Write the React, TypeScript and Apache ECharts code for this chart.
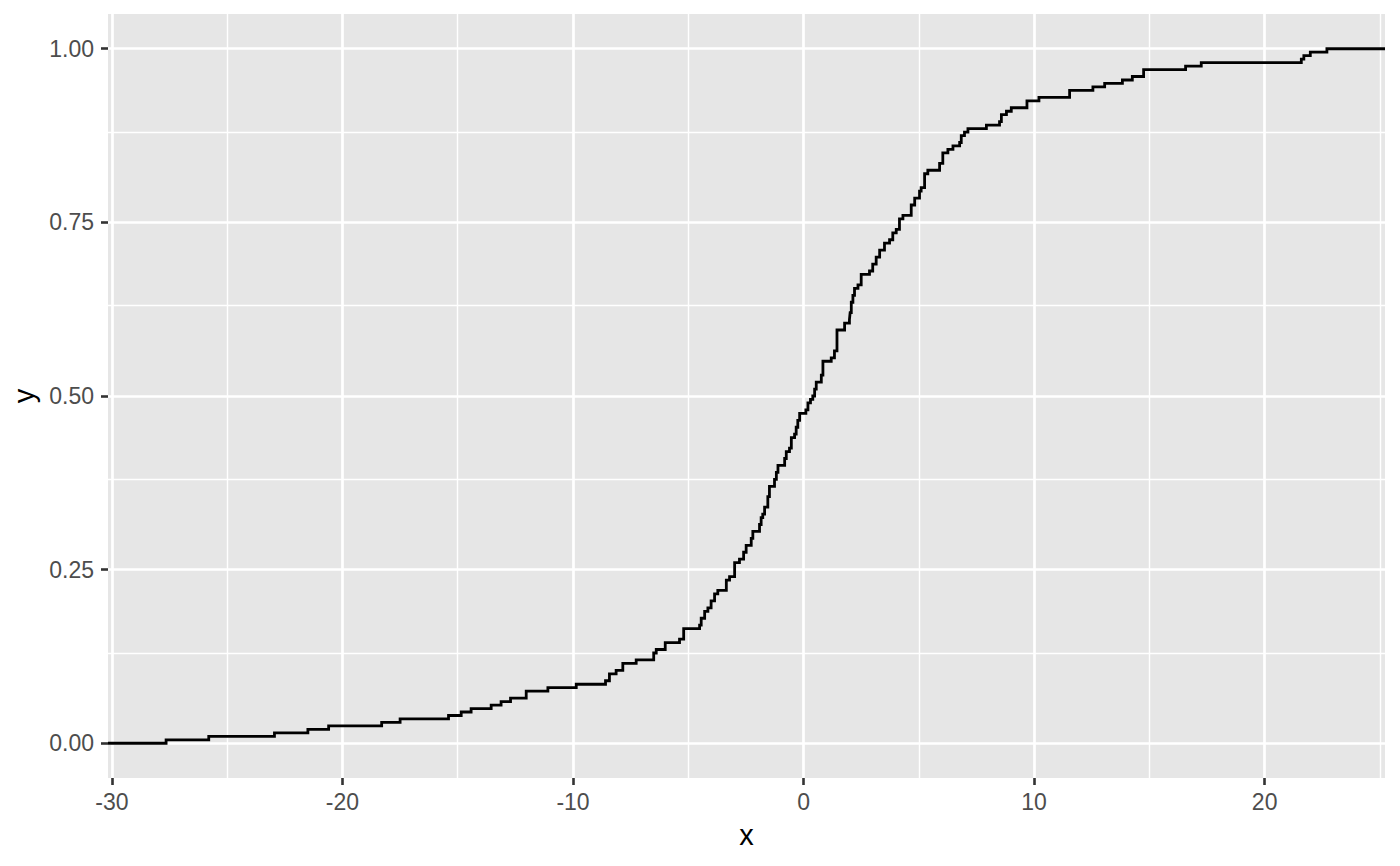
import React, { useEffect, useRef } from "react";
import * as echarts from "echarts";

// ECDF step positions (x where the step occurs, y = cumulative proportion after the step)
const stepX = [
  -27.65, -25.8, -22.95, -21.5, -20.6, -18.3, -17.5, -15.4, -14.85, -14.42,
  -13.55, -13.12, -12.71, -12.03, -11.09, -9.86, -8.59, -8.42, -8.13, -7.84,
  -7.26, -6.5, -6.39, -6.0, -5.38, -5.2, -4.51, -4.44, -4.29, -4.15,
  -4.01, -3.86, -3.72, -3.35, -3.21, -2.99, -2.78, -2.6, -2.49, -2.27,
  -2.2, -1.91, -1.84, -1.77, -1.69, -1.55, -1.48, -1.26, -1.18, -1.11,
  -0.82, -0.75, -0.61, -0.53, -0.39, -0.32, -0.25, -0.17, 0.1, 0.19,
  0.3, 0.4, 0.48, 0.55, 0.77, 0.84, 1.2, 1.34, 1.45, 1.78,
  1.99, 2.02, 2.07, 2.14, 2.21, 2.36, 2.5, 2.86, 3.0, 3.15,
  3.3, 3.51, 3.73, 3.87, 4.02, 4.16, 4.31, 4.67, 4.82, 5.03,
  5.1, 5.25, 5.39, 5.9, 6.04, 6.26, 6.48, 6.77, 6.84, 6.98,
  7.13, 7.93, 8.5, 8.58, 8.8, 9.01, 9.69, 10.21, 11.54, 12.55,
  13.06, 13.83, 14.26, 14.75, 16.57, 17.25, 21.59, 21.7, 21.98, 22.7,
];
const stepY = [
  0.005, 0.01, 0.015, 0.02, 0.025, 0.03, 0.035, 0.04, 0.045, 0.05,
  0.055, 0.06, 0.065, 0.075, 0.08, 0.085, 0.09, 0.1, 0.105, 0.115,
  0.12, 0.13, 0.135, 0.145, 0.15, 0.165, 0.17, 0.18, 0.19, 0.195,
  0.205, 0.215, 0.22, 0.235, 0.24, 0.26, 0.265, 0.275, 0.285, 0.295,
  0.305, 0.315, 0.325, 0.33, 0.34, 0.355, 0.37, 0.38, 0.39, 0.4,
  0.41, 0.42, 0.425, 0.44, 0.445, 0.455, 0.465, 0.475, 0.48, 0.49,
  0.495, 0.5, 0.51, 0.52, 0.53, 0.55, 0.555, 0.565, 0.595, 0.605,
  0.61, 0.62, 0.635, 0.645, 0.655, 0.66, 0.675, 0.68, 0.69, 0.7,
  0.71, 0.72, 0.725, 0.735, 0.74, 0.755, 0.76, 0.775, 0.785, 0.795,
  0.8, 0.82, 0.825, 0.835, 0.85, 0.855, 0.86, 0.865, 0.875, 0.88,
  0.885, 0.89, 0.895, 0.905, 0.91, 0.915, 0.925, 0.93, 0.94, 0.945,
  0.95, 0.955, 0.96, 0.97, 0.975, 0.98, 0.985, 0.99, 0.995, 1.0,
];

const xTicks = [-30, -20, -10, 0, 10, 20];
const xMinorTicks = [-25, -15, -5, 5, 15, 25];
const yTicks = [0, 0.25, 0.5, 0.75, 1];
const yMinorTicks = [0.125, 0.375, 0.625, 0.875];
const xLimits = [-30.17, 25.22];
const yLimits = [-0.05, 1.05];

export default function App() {
  const ref = useRef<HTMLDivElement>(null);

  useEffect(() => {
    if (!ref.current) return;
    const chart = echarts.init(ref.current, null, { renderer: "svg" });
    const font = "'Liberation Sans', Arial, Helvetica, sans-serif";

    const data: number[][] = [[xLimits[0], 0]];
    stepX.forEach((x, i) => data.push([x, stepY[i]]));
    data.push([xLimits[1], 1]);

    const major = { color: "#ffffff", width: 2.7, type: "solid" };
    const minor = { color: "#ffffff", width: 1.4, type: "solid" };
    const gridData: any[] = [
      ...xMinorTicks.map((v) => ({ xAxis: v, lineStyle: minor })),
      ...yMinorTicks.map((v) => ({ yAxis: v, lineStyle: minor })),
      ...xTicks.map((v) => ({ xAxis: v, lineStyle: major })),
      ...yTicks.map((v) => ({ yAxis: v, lineStyle: major })),
    ];

    chart.setOption({
      animation: false,
      backgroundColor: "#ffffff",
      textStyle: { fontFamily: font },
      grid: {
        left: 108,
        right: 15,
        top: 14,
        bottom: 88,
        show: true,
        backgroundColor: "#E6E6E6",
        borderWidth: 0,
      },
      xAxis: {
        type: "value",
        min: xLimits[0],
        max: xLimits[1],
        name: "x",
        nameLocation: "middle",
        nameGap: 42,
        nameTextStyle: { fontSize: 29, color: "#000000", fontFamily: font },
        axisLine: { show: false, onZero: false },
        axisTick: {
          show: true,
          length: 7,
          customValues: xTicks,
          lineStyle: { color: "#333333", width: 2.6 },
        },
        axisLabel: {
          show: true,
          customValues: xTicks,
          margin: 12,
          fontSize: 23,
          color: "#4D4D4D",
          fontFamily: font,
          formatter: (v: number) => String(v),
        },
        splitLine: { show: false },
        minorSplitLine: { show: false },
      },
      yAxis: {
        type: "value",
        min: yLimits[0],
        max: yLimits[1],
        name: "y",
        nameLocation: "middle",
        nameGap: 66,
        nameTextStyle: { fontSize: 29, color: "#000000", fontFamily: font },
        axisLine: { show: false, onZero: false },
        axisTick: {
          show: true,
          length: 7,
          customValues: yTicks,
          lineStyle: { color: "#333333", width: 2.6 },
        },
        axisLabel: {
          show: true,
          customValues: yTicks,
          margin: 14,
          fontSize: 23,
          color: "#4D4D4D",
          fontFamily: font,
          formatter: (v: number) => v.toFixed(2),
        },
        splitLine: { show: false },
        minorSplitLine: { show: false },
      },
      series: [
        {
          type: "line",
          data: [],
          silent: true,
          z: 1,
          symbol: "none",
          markLine: {
            silent: true,
            z: 1,
            symbol: ["none", "none"],
            label: { show: false },
            emphasis: { disabled: true },
            data: gridData,
          },
        },
        {
          type: "line",
          step: "end",
          data,
          z: 10,
          symbol: "none",
          showSymbol: false,
          silent: true,
          lineStyle: { color: "#000000", width: 2.8, join: "miter" },
        },
      ],
    });

    return () => chart.dispose();
  }, []);

  return (
    <div
      ref={ref}
      style={{ position: "absolute", left: 0, top: 0, width: 1400, height: 866 }}
    />
  );
}
